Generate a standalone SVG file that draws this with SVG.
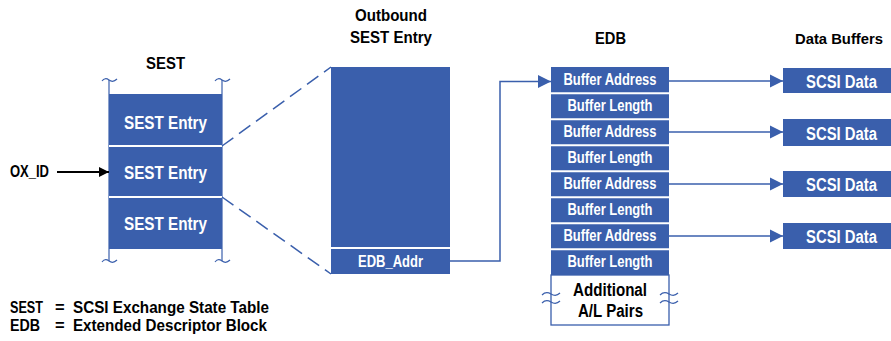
<svg xmlns="http://www.w3.org/2000/svg" width="891" height="341" viewBox="0 0 891 341">
<style>
.blk{fill:#3a5fac}
.sep{stroke:#ffffff;stroke-width:2}
.wt{fill:#ffffff;font-family:"Liberation Sans",Arial,sans-serif;font-weight:bold;text-anchor:middle}
.bt{fill:#000000;font-family:"Liberation Sans",Arial,sans-serif;font-weight:bold}
.ln{stroke:#3a5fac;stroke-width:1.5;fill:none}
.tl{stroke:#3a5fac;stroke-width:1.2;fill:none}
</style>
<defs>
<marker id="ab" viewBox="0 0 10 10" refX="10" refY="5" markerWidth="13" markerHeight="14" markerUnits="userSpaceOnUse" orient="auto"><path d="M0,0 L10,5 L0,10 z" fill="#3a5fac"/></marker>
<marker id="ak" viewBox="0 0 10 10" refX="10" refY="5" markerWidth="12" markerHeight="10" markerUnits="userSpaceOnUse" orient="auto"><path d="M0,0 L10,5 L0,10 z" fill="#000"/></marker>
</defs>

<g id="sest">
<text class="bt" x="165.5" y="69" font-size="17" text-anchor="middle" textLength="39" lengthAdjust="spacingAndGlyphs">SEST</text>
<line class="tl" x1="109" y1="80" x2="109" y2="261"/>
<line class="tl" x1="222" y1="80" x2="222" y2="261"/>
<path class="tl" d="M102,81 q3,-4 7,-1 q4,3 8,-1"/>
<path class="tl" d="M215,81 q3,-4 7,-1 q4,3 8,-1"/>
<path class="tl" d="M102,262 q3,-4 7,-1 q4,3 8,-1"/>
<path class="tl" d="M215,262 q3,-4 7,-1 q4,3 8,-1"/>
<rect class="blk" x="109" y="94" width="113" height="155"/>
<line class="sep" x1="109" y1="146" x2="222" y2="146"/>
<line class="sep" x1="109" y1="197" x2="222" y2="197"/>
<text class="wt" x="165.5" y="129" font-size="17.5" textLength="83" lengthAdjust="spacingAndGlyphs">SEST Entry</text>
<text class="wt" x="165.5" y="179" font-size="17.5" textLength="83" lengthAdjust="spacingAndGlyphs">SEST Entry</text>
<text class="wt" x="165.5" y="230" font-size="17.5" textLength="83" lengthAdjust="spacingAndGlyphs">SEST Entry</text>
</g>

<g id="oxid">
<text class="bt" x="10" y="177" font-size="16" textLength="39" lengthAdjust="spacingAndGlyphs">OX_ID</text>
</g>

<g id="outbound">
<text class="bt" x="391" y="21" font-size="17" text-anchor="middle" textLength="72" lengthAdjust="spacingAndGlyphs">Outbound</text>
<text class="bt" x="391" y="43" font-size="17" text-anchor="middle" textLength="82" lengthAdjust="spacingAndGlyphs">SEST Entry</text>
<rect class="blk" x="331" y="67" width="119" height="207"/>
<line class="sep" x1="331" y1="248" x2="450" y2="248"/>
<text class="wt" x="390.5" y="267" font-size="16" textLength="65" lengthAdjust="spacingAndGlyphs">EDB_Addr</text>
</g>

<g id="edb">
<text class="bt" x="610.5" y="44" font-size="17" text-anchor="middle" textLength="31" lengthAdjust="spacingAndGlyphs">EDB</text>
<rect class="blk" x="551" y="67" width="118" height="208"/>
<g class="sep">
<line x1="551" y1="93.3" x2="669" y2="93.3"/>
<line x1="551" y1="119.3" x2="669" y2="119.3"/>
<line x1="551" y1="145.3" x2="669" y2="145.3"/>
<line x1="551" y1="171.3" x2="669" y2="171.3"/>
<line x1="551" y1="197.3" x2="669" y2="197.3"/>
<line x1="551" y1="223.3" x2="669" y2="223.3"/>
<line x1="551" y1="249.3" x2="669" y2="249.3"/>
</g>
<text class="wt" x="610" y="85" font-size="16" textLength="93" lengthAdjust="spacingAndGlyphs">Buffer Address</text>
<text class="wt" x="610" y="111" font-size="16" textLength="85" lengthAdjust="spacingAndGlyphs">Buffer Length</text>
<text class="wt" x="610" y="137" font-size="16" textLength="93" lengthAdjust="spacingAndGlyphs">Buffer Address</text>
<text class="wt" x="610" y="163" font-size="16" textLength="85" lengthAdjust="spacingAndGlyphs">Buffer Length</text>
<text class="wt" x="610" y="189" font-size="16" textLength="93" lengthAdjust="spacingAndGlyphs">Buffer Address</text>
<text class="wt" x="610" y="215" font-size="16" textLength="85" lengthAdjust="spacingAndGlyphs">Buffer Length</text>
<text class="wt" x="610" y="241" font-size="16" textLength="93" lengthAdjust="spacingAndGlyphs">Buffer Address</text>
<text class="wt" x="610" y="267" font-size="16" textLength="85" lengthAdjust="spacingAndGlyphs">Buffer Length</text>
<rect x="551" y="275" width="118" height="50" fill="#ffffff" stroke="#3a5fac" stroke-width="1.3"/>
<path class="tl" d="M542,295 q4,-4 9,-1 q5,3 9,-1"/>
<path class="tl" d="M542,303 q4,-4 9,-1 q5,3 9,-1"/>
<path class="tl" d="M660,295 q4,-4 9,-1 q5,3 9,-1"/>
<path class="tl" d="M660,303 q4,-4 9,-1 q5,3 9,-1"/>
<text class="bt" x="610" y="296" font-size="17.5" text-anchor="middle" textLength="74" lengthAdjust="spacingAndGlyphs">Additional</text>
<text class="bt" x="610.5" y="317" font-size="17.5" text-anchor="middle" textLength="65" lengthAdjust="spacingAndGlyphs">A/L Pairs</text>
</g>

<g id="buffers">
<text class="bt" x="839" y="44" font-size="15.5" text-anchor="middle" textLength="88" lengthAdjust="spacingAndGlyphs">Data Buffers</text>
<rect class="blk" x="783" y="68" width="108" height="25"/>
<rect class="blk" x="783" y="119" width="108" height="27"/>
<rect class="blk" x="783" y="171" width="108" height="26"/>
<rect class="blk" x="783" y="223" width="108" height="26"/>
<text class="wt" x="841.5" y="88" font-size="17.5" textLength="71" lengthAdjust="spacingAndGlyphs">SCSI Data</text>
<text class="wt" x="841.5" y="139.5" font-size="17.5" textLength="71" lengthAdjust="spacingAndGlyphs">SCSI Data</text>
<text class="wt" x="841.5" y="190.5" font-size="17.5" textLength="71" lengthAdjust="spacingAndGlyphs">SCSI Data</text>
<text class="wt" x="841.5" y="242.5" font-size="17.5" textLength="71" lengthAdjust="spacingAndGlyphs">SCSI Data</text>
</g>

<g id="connectors">
<line x1="57" y1="172" x2="109" y2="172" stroke="#000" stroke-width="2.2" marker-end="url(#ak)"/>
<line class="ln" x1="222" y1="146" x2="331" y2="67" stroke-dasharray="14,7"/>
<line class="ln" x1="222" y1="197" x2="331" y2="274" stroke-dasharray="14,7"/>
<polyline class="ln" points="450,261 500,261 500,81.5 551,81.5" marker-end="url(#ab)"/>
<line class="ln" x1="669" y1="81" x2="783" y2="81" marker-end="url(#ab)"/>
<line class="ln" x1="669" y1="132" x2="783" y2="132" marker-end="url(#ab)"/>
<line class="ln" x1="669" y1="184" x2="783" y2="184" marker-end="url(#ab)"/>
<line class="ln" x1="669" y1="236" x2="783" y2="236" marker-end="url(#ab)"/>
</g>

<g id="legend">
<text class="bt" x="10" y="313" font-size="16.5" textLength="33" lengthAdjust="spacingAndGlyphs">SEST</text>
<text class="bt" x="55" y="313" font-size="16.5">=</text>
<text class="bt" x="73" y="313" font-size="16.5" textLength="196" lengthAdjust="spacingAndGlyphs">SCSI Exchange State Table</text>
<text class="bt" x="10" y="331" font-size="16.5" textLength="30" lengthAdjust="spacingAndGlyphs">EDB</text>
<text class="bt" x="55" y="331" font-size="16.5">=</text>
<text class="bt" x="73" y="331" font-size="16.5" textLength="194" lengthAdjust="spacingAndGlyphs">Extended Descriptor Block</text>
</g>
</svg>
